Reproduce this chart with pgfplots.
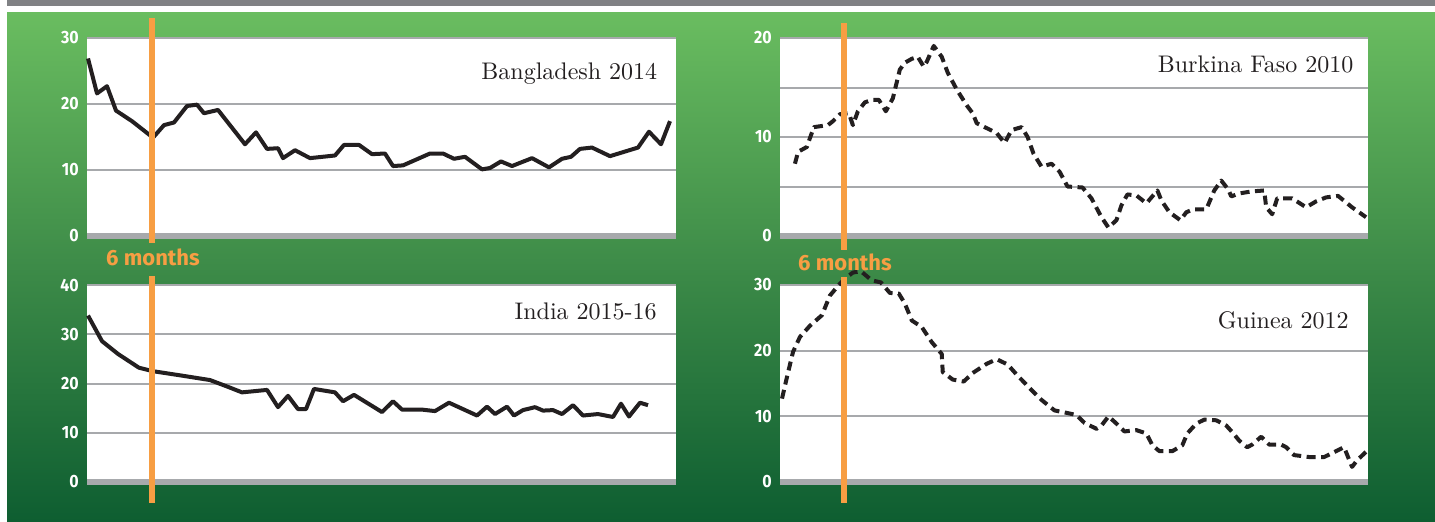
\documentclass[border=0pt]{standalone}
\usepackage{pgfplots}
\pgfplotsset{compat=1.18}
\usepackage{fontspec}
\newfontfamily\tickfont{Fira Sans}
\newfontfamily\tickcond[FakeStretch=0.9]{Fira Sans}

\definecolor{gTop}{HTML}{6ABD60}
\definecolor{gMid}{HTML}{3D8B48}
\definecolor{gBot}{HTML}{0E5E31}
\definecolor{barGray}{HTML}{808184}
\definecolor{gridGray}{HTML}{A7A9AC}
\definecolor{sixMo}{HTML}{F79E43}
\definecolor{lineCol}{HTML}{231F20}

% 1 px of the reference = 0.4pt
\pgfplotsset{
  panel/.style={
    scale only axis, width=235.6pt, height=79.2pt,
    anchor=south west,
    xmin=0, xmax=58.9,
    axis line style={draw=none},
    axis background/.style={fill=white},
    xtick=\empty,
    major tick length=0pt, minor tick length=0pt,
    ymajorgrids, yminorgrids,
    major grid style={draw=gridGray, line width=0.8pt},
    minor grid style={draw=gridGray, line width=0.8pt},
    yticklabel style={font=\tickcond\bfseries\fontsize{7.1}{8}\selectfont,
      text=white, inner sep=0pt, xshift=-3.1pt},
    /pgf/number format/assume math mode=true,
    clip=false,
  },
}
\tikzset{
  datline/.style={line width=1.6pt, color=lineCol, line join=round},
  dashline/.style={datline, dash pattern=on 3.6pt off 2.2pt},
  ttl/.style={anchor=base east, inner sep=0pt, font=\fontsize{9.6}{12}\selectfont, text=lineCol},
}
\newcommand{\zeroline}{\draw[gridGray, line width=2.4pt] (rel axis cs:0,0) -- (rel axis cs:1,0);}

\begin{document}
\begin{tikzpicture}
\begin{scope}[x=0.4pt,y=-0.4pt]
\useasboundingbox (0,0) rectangle (1435,521);
\fill[white] (0,0) rectangle (1435,521);
\fill[barGray] (7,0) rectangle (1435,6);
\shade[top color=gTop, bottom color=gBot, middle color=gMid] (7,12) rectangle (1435,521);
\end{scope}

% Bangladesh 2014
\begin{axis}[panel, at={(34.8pt,-94.4pt)}, ymin=0, ymax=30, ytick={0,10,20,30}]
\zeroline
\addplot[datline] coordinates {
(0.1,26.9) (1.0,21.6) (2.0,22.7) (2.9,19.0) (4.5,17.4) (6.6,14.9) (7.7,16.8)
(8.7,17.2) (10.0,19.7) (11.0,19.9) (11.7,18.6) (13.1,19.1) (15.8,13.9) (16.9,15.7)
(18.0,13.2) (19.1,13.3) (19.6,11.8) (20.8,13.0) (22.3,11.8) (24.8,12.2) (25.7,13.8)
(27.2,13.8) (28.5,12.4) (29.8,12.5) (30.6,10.6) (31.6,10.7) (34.3,12.5) (35.6,12.5)
(36.7,11.7) (37.8,12.0) (39.5,10.1) (40.3,10.3) (41.4,11.3) (42.5,10.6) (44.5,11.8)
(46.2,10.4) (47.5,11.7) (48.4,12.0) (49.3,13.2) (50.5,13.4) (52.3,12.1) (55.1,13.4)
(56.2,15.8) (57.4,13.9) (58.3,17.4)
};
\node[ttl] at (rel axis cs:0.969,0.788) {Bangladesh 2014};
\end{axis}

% Burkina Faso 2010
\begin{axis}[panel, at={(312pt,-94.4pt)}, width=235.2pt, ymin=0, ymax=20,
  ytick={0,10,20}, minor ytick={5,15}]
\zeroline
\addplot[dashline] coordinates {
(1.5,7.3) (1.8,8.5) (2.7,9.0) (3.0,9.9) (3.4,11.0) (4.8,11.2) (5.3,11.6) (6.0,12.3)
(6.9,12.4) (7.3,11.2) (7.8,12.6) (8.5,13.5) (9.2,13.75) (9.9,13.75) (10.6,12.6)
(11.3,13.9) (12.0,16.8) (12.5,17.5) (13.2,17.9) (13.8,18.1) (14.4,17.1) (14.7,17.6)
(15.4,19.2) (16.2,18.1) (16.8,16.5) (17.7,14.8) (18.7,13.2) (19.3,12.4) (19.7,11.4)
(20.7,10.9) (21.7,10.4) (22.5,9.4) (23.2,10.7) (24.2,11.0) (24.8,10.0) (25.4,8.3)
(26.2,7.0) (27.2,7.3) (28.0,6.5) (28.8,5.0) (30.3,4.9) (31.2,3.8) (32.2,1.9)
(32.9,0.85) (33.7,1.6) (34.2,3.1) (34.8,4.2) (35.7,4.1) (36.7,3.3) (37.8,4.6)
(38.2,3.6) (39.0,2.4) (40.1,1.6) (40.7,2.4) (41.4,2.7) (42.7,2.7) (43.5,4.6)
(44.2,5.6) (44.9,4.7) (45.2,4.0) (46.0,4.3) (47.2,4.5) (48.5,4.6) (48.7,2.9)
(49.3,2.2) (49.8,3.8) (51.3,3.8) (52.7,2.9) (53.7,3.5) (54.7,3.9) (55.9,4.05)
(57.3,2.9) (58.7,1.9)
};
\node[ttl] at (rel axis cs:0.976,0.827) {Burkina Faso 2010};
\end{axis}

% India 2015-16
\begin{axis}[panel, at={(34.8pt,-192.8pt)}, height=78.8pt, ymin=0, ymax=40,
  ytick={0,10,20,30,40}]
\zeroline
\addplot[datline] coordinates {
(0.1,33.8) (1.5,28.6) (3.1,26.0) (5.2,23.2) (6.6,22.5) (9.5,21.6) (12.3,20.7)
(14.0,19.4) (15.5,18.2) (18.0,18.7) (19.1,15.2) (20.1,17.5) (21.1,14.8) (21.9,14.8)
(22.7,18.9) (24.8,18.2) (25.6,16.4) (26.7,17.7) (29.5,14.2) (30.6,16.4) (31.5,14.7)
(33.5,14.7) (34.8,14.4) (36.2,16.1) (39.0,13.5) (40.0,15.3) (40.8,13.8) (42.0,15.3)
(42.7,13.5) (43.6,14.6) (44.8,15.2) (45.6,14.5) (46.6,14.6) (47.5,13.8) (48.6,15.6)
(49.6,13.5) (51.1,13.8) (52.6,13.2) (53.4,15.9) (54.2,13.3) (55.3,16.1) (56.1,15.6)
};
\node[ttl] at (rel axis cs:0.968,0.827) {India 2015-16};
\end{axis}

% Guinea 2012
\begin{axis}[panel, at={(312pt,-192.8pt)}, width=235.2pt, height=78.8pt,
  ymin=0, ymax=30, ytick={0,10,20,30}]
\zeroline
\addplot[dashline] coordinates {
(0.2,12.7) (0.7,16.0) (1.3,19.8) (2.0,22.1) (3.0,23.8) (4.2,25.4) (5.0,28.4)
(6.0,30.2) (6.7,31.2) (7.3,31.9) (8.1,32.1) (9.2,30.7) (10.1,30.4) (11.0,28.8)
(11.9,28.7) (12.5,27.2) (13.2,24.6) (14.2,23.6) (15.2,21.3) (16.2,19.5) (16.3,16.75)
(17.3,15.6) (18.4,15.3) (19.3,16.6) (20.7,18.0) (21.7,18.7) (22.8,17.9) (23.8,16.2)
(25.2,14.0) (26.2,12.5) (27.5,10.9) (28.5,10.6) (29.7,10.2) (30.5,9.0) (31.7,8.1)
(32.2,8.6) (32.9,10.0) (33.7,8.9) (34.5,7.7) (35.7,7.9) (36.7,7.4) (37.3,5.6)
(38.0,4.7) (39.3,4.7) (40.3,5.6) (40.8,7.4) (41.7,8.9) (42.5,9.5) (43.7,9.4)
(44.7,8.6) (45.3,7.6) (46.0,6.3) (46.8,5.3) (47.3,5.7) (48.2,6.9) (49.0,5.7)
(50.2,5.7) (50.7,5.3) (51.5,4.1) (53.0,3.8) (54.5,3.8) (55.7,4.7) (56.5,5.3)
(57.3,2.3) (57.8,3.3) (58.7,4.6)
};
\node[ttl] at (rel axis cs:0.968,0.778) {Guinea 2012};
\end{axis}

\begin{scope}[x=0.4pt,y=-0.4pt]
\draw[sixMo, line width=2.3pt] (152,18) -- (152,243);
\draw[sixMo, line width=2.3pt] (152,276) -- (152,503);
\draw[sixMo, line width=2.3pt] (844,23) -- (844,250);
\draw[sixMo, line width=2.3pt] (844,277) -- (844,503);
\node[anchor=base, inner sep=0pt, text=sixMo, font=\tickfont\bfseries\fontsize{8.8}{10}\selectfont] at (153,265) {6 months};
\node[anchor=base, inner sep=0pt, text=sixMo, font=\tickfont\bfseries\fontsize{8.8}{10}\selectfont] at (845,270) {6 months};
\end{scope}
\end{tikzpicture}
\end{document}
